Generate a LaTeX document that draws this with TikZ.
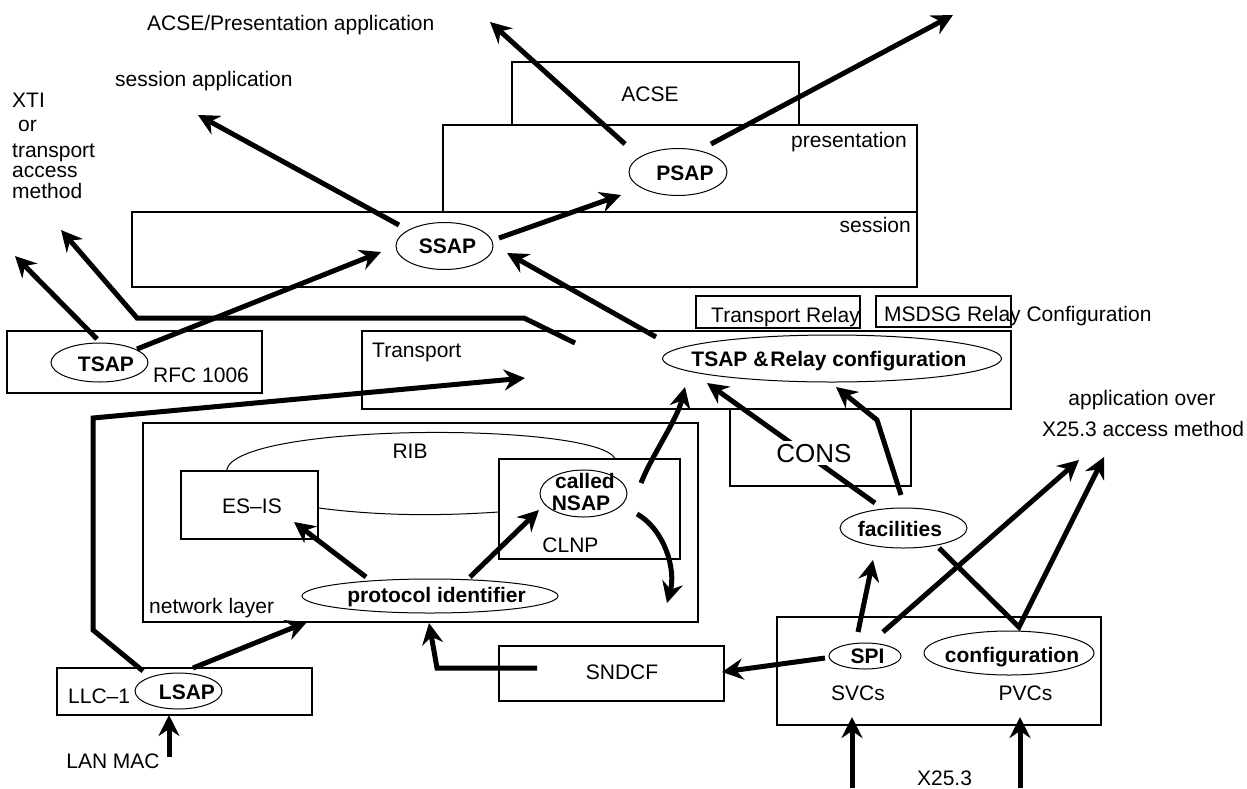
\documentclass[tikz,border=0pt]{standalone}
\usepackage{fontspec}
\setmainfont{Liberation Sans}
\usetikzlibrary{arrows.meta,calc,shapes.geometric}

\begin{document}
\begin{tikzpicture}[x=1pt,y=-1pt,
  layerbox/.style={draw, rectangle, line width=1.2pt, inner sep=0pt},
  sapell/.style={draw, ellipse, line width=1pt, inner sep=0pt},
  lbl/.style={inner sep=0pt, anchor=base, font=\fontsize{21}{22}\selectfont},
  blbl/.style={lbl, font=\fontsize{21}{22}\selectfont\bfseries},
  flow/.style={line width=5pt, -{Stealth[length=21pt,width=21pt,inset=7pt]}},
  link/.style={line width=1pt}
]
\fill[white] (0,0) rectangle (1247,788);
\useasboundingbox (0,0) rectangle (1247,788);

% ---- layer boxes ----
\node[layerbox, minimum width=287pt, minimum height=63pt]  (acsebox)   at (655.5,93.5) {};
\node[layerbox, minimum width=474pt, minimum height=87pt]  (presbox)   at (680,168.5) {};
\node[layerbox, minimum width=785pt, minimum height=75pt]  (sessbox)   at (524.5,249.5) {};
\node[layerbox, minimum width=255pt, minimum height=62pt]  (rfcbox)    at (134.5,362) {};
\node[layerbox, minimum width=649pt, minimum height=78pt]  (transbox)  at (686.5,370) {};
\node[layerbox, minimum width=164pt, minimum height=32pt]  (trelaybox) at (778,312) {};
\node[layerbox, minimum width=135pt, minimum height=31pt]  (msdsgbox)  at (943.5,311.5) {};
\node[layerbox, minimum width=181pt, minimum height=77pt]  (consbox)   at (820.5,447.5) {};
\node[layerbox, minimum width=555pt, minimum height=199pt] (netbox)    at (420.5,522.5) {};
\node[layerbox, minimum width=137pt, minimum height=68pt]  (esisbox)   at (249.5,505) {};
\node[layerbox, minimum width=181pt, minimum height=100pt] (clnpbox)   at (589.5,509) {};
\node[layerbox, minimum width=255pt, minimum height=47pt]  (llcbox)    at (184.5,691.5) {};
\node[layerbox, minimum width=225pt, minimum height=55pt]  (sndcfbox)  at (611.5,673.5) {};
\node[layerbox, minimum width=324pt, minimum height=108pt] (x25box)    at (939,671) {};

% ---- service access points ----
\node[sapell, minimum width=98pt,  minimum height=47pt] (psap)   at (678,172) {};
\node[sapell, minimum width=97pt,  minimum height=47pt] (ssap)   at (444.5,246) {};
\node[sapell, minimum width=97pt,  minimum height=39pt] (tsapl)  at (99.5,362.5) {};
\node[sapell, minimum width=339pt, minimum height=47pt] (tsr)    at (832,358.5) {};
\node[sapell, minimum width=87pt,  minimum height=47pt] (nsap)   at (583.5,493.5) {};
\node[sapell, minimum width=256pt, minimum height=34pt] (protid) at (430,596) {};
\node[sapell, minimum width=127pt, minimum height=40pt] (facil)  at (903.5,528) {};
\node[sapell, minimum width=72pt,  minimum height=26pt] (spi)    at (865,656) {};
\node[sapell, minimum width=170pt, minimum height=44pt] (config) at (1009,653) {};
\node[sapell, minimum width=87pt,  minimum height=36pt] (lsap)   at (178.5,691) {};

% ---- routing information base links ----
\draw[link] ($(esisbox.north)+(-23,0)$) .. controls (235,422) and (595,422) .. ($(clnpbox.north)+(25.5,0)$);
\draw[link] ($(esisbox.east)+(0,3)$) .. controls (380,516) and (440,516) .. ($(clnpbox.west)+(0,3)$);

% ---- labels ----
\node[lbl, anchor=base west] (t-acsepres) at (147,30) {ACSE/Presentation application};
\node[lbl, anchor=base west] (t-sessapp)  at (115,86) {session application};
\node[lbl, anchor=base west] (t-xti)      at (12,107) {XTI};
\node[lbl, anchor=base west] (t-or)       at (18,131) {or};
\node[lbl, anchor=base west] (t-transp)   at (12,157) {transport};
\node[lbl, anchor=base west] (t-access)   at (12,177) {access};
\node[lbl, anchor=base west] (t-method)   at (12,198) {method};
\node[lbl] (t-acse) at (650,101) {ACSE};
\node[lbl, anchor=base east] (t-pres) at (907,147) {presentation};
\node[lbl, anchor=base east] (t-sess) at (911,232) {session};
\node[blbl] (t-psap) at (685,180) {PSAP};
\node[blbl] (t-ssap) at (447.5,253) {SSAP};
\node[blbl] (t-tsapl) at (106,371) {TSAP};
\node[lbl, anchor=base west] (t-rfc) at (153,382) {RFC 1006};
\node[lbl, anchor=base west] (t-transport) at (372,357) {Transport};
\node[lbl, anchor=base west] (t-trelay) at (711,322) {Transport Relay};
\node[lbl, anchor=base west] (t-msdsg) at (884,321) {MSDSG Relay Configuration};
\node[blbl] (t-tsr) at (829,366) {TSAP \&\hspace{2pt}Relay configuration};
\node[lbl] (t-rib) at (410,458) {RIB};
\node[lbl] (t-esis) at (252,513) {ES--IS};
\node[blbl] (t-called) at (585,488) {called};
\node[blbl] (t-nsap) at (581,510) {NSAP};
\node[lbl] (t-clnp) at (570.5,552) {CLNP};
\node[blbl] (t-protid) at (436.5,602) {protocol identifier};
\node[lbl, anchor=base west] (t-net) at (149,613) {network layer};
\node[lbl] (t-appover) at (1142,405) {application over};
\node[lbl] (t-x25am) at (1143,436) {X25.3 access method};
\node[blbl] (t-facil) at (900,536) {facilities};
\node[blbl] (t-spi) at (867.5,663) {SPI};
\node[blbl] (t-config) at (1012,662) {configuration};
\node[lbl] (t-svcs) at (858,700) {SVCs};
\node[lbl] (t-pvcs) at (1025.5,700) {PVCs};
\node[lbl] (t-x25) at (944.5,785) {X25.3};
\node[lbl, anchor=base west] (t-llc) at (68,703) {LLC--1};
\node[blbl] (t-lsap) at (187,699) {LSAP};
\node[lbl] (t-lanmac) at (113,768) {LAN MAC};
\node[lbl] (t-sndcf) at (622,679) {SNDCF};

% ---- free ends of the flows ----
\coordinate (up-sess)   at (198,115);
\coordinate (up-acse)   at (490,22);
\coordinate (up-pres)   at (953,15);
\coordinate (up-xti)    at (15,256);
\coordinate (up-tam)    at (61,230);
\coordinate (tr-bend1)  at (524,318);
\coordinate (tr-bend2)  at (137,318);
\coordinate (llc-bend1) at (93,630);
\coordinate (llc-bend2) at (93,418);
\coordinate (mac-in)    at (169,757);
\coordinate (nsap-down) at (667,603);
\coordinate (fac-bend)  at (877,420);
\coordinate (x25-app1)  at (1079,460);
\coordinate (x25-app2)  at (1104,457);
\coordinate (pvc-bend)  at (1019,627);
\coordinate (sndcf-bend) at (437,668);
\coordinate (x25-in1)   at (852,788);
\coordinate (x25-in2)   at (1020,788);

% ---- flows ----
\draw[flow] ($(ssap)+(-45.5,-21)$) -- (up-sess);
\draw[flow] ($(psap)+(-53,-28)$) -- (up-acse);
\draw[flow] ($(psap)+(33,-28)$) -- (up-pres);
\draw[flow] ($(ssap)+(54.5,-8)$) -- ($(psap)+(-57,23)$);
\draw[flow] ($(tsr)+(-176,-21.5)$) -- ($(ssap)+(62.5,7)$);
\draw[flow] ($(tsapl)+(-2.5,-23.5)$) -- (up-xti);
\draw[flow] ($(tsapl)+(37.5,-13.5)$) -- ($(ssap)+(-63.5,6)$);
\draw[flow] ($(transbox)+(-111.5,-27)$) -- (tr-bend1) -- (tr-bend2) -- (up-tam);
\draw[flow] ($(lsap)+(-35.5,-20)$) -- (llc-bend1) -- (llc-bend2) -- ($(transbox)+(-161.5,8)$);
\draw[flow] ($(lsap)+(14.5,-23)$) -- ($(netbox)+(-113.5,99.5)$);
\draw[flow] (mac-in) -- ($(llcbox)+(-15.5,23.5)$);
\draw[flow] ($(protid)+(-64,-19)$) -- ($(esisbox)+(44.5,17)$);
\draw[flow] ($(protid)+(40,-19)$) -- ($(nsap)+(-44.5,16.5)$);
\draw[flow] ($(nsap)+(57.5,-10.5)$) .. controls (652,455) and (677,420) .. ($(tsr)+(-147,28.5)$);
\draw[flow] ($(nsap)+(53.5,20.5)$) .. controls (665,530) and (676,570) .. (nsap-down);
\draw[flow] ($(facil)+(-28.5,-25)$) -- ($(tsr)+(-125,24.5)$);
\draw[flow] ($(facil)+(-2.5,-33)$) -- (fac-bend) -- ($(tsr)+(4,28.5)$);
\draw[flow] ($(spi)+(-7,-24)$) -- ($(facil)+(-30.5,32)$);
\draw[flow] ($(spi)+(18,-24)$) -- (x25-app1);
\draw[flow] ($(facil)+(35.5,20)$) -- (pvc-bend) -- (x25-app2);
\draw[flow] ($(spi)+(-40,2)$) -- ($(sndcfbox)+(110.5,-1.5)$);
\draw[flow] ($(sndcfbox)+(-74.5,-5.5)$) -- (sndcf-bend) -- ($(protid)+(-1,27)$);
\draw[flow] (x25-in1) -- ($(x25box)+(-87,46)$);
\draw[flow] (x25-in2) -- ($(x25box)+(81,46)$);

% ---- CONS label sits over the facilities flow ----
\node[lbl, font=\fontsize{26}{28}\selectfont, fill=white, inner sep=3pt] (t-cons) at (814,462) {CONS};
\end{tikzpicture}
\end{document}
